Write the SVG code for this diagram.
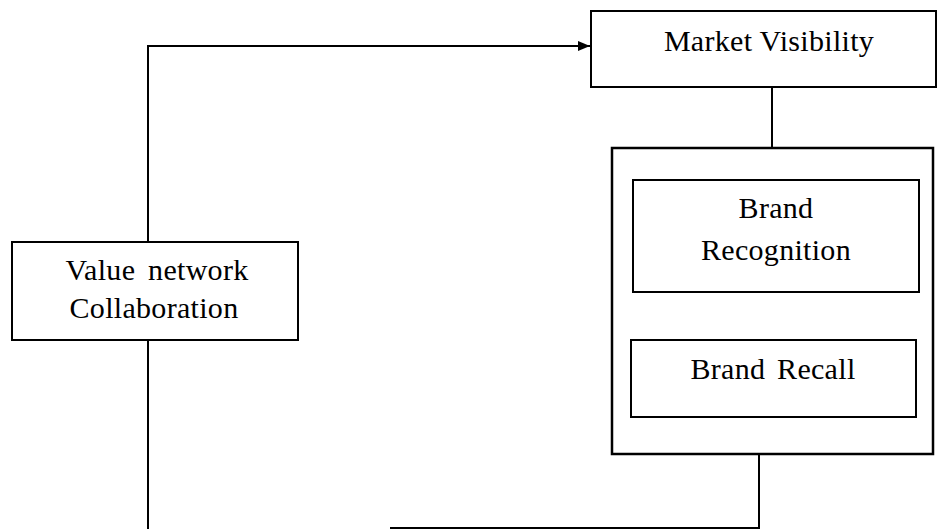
<svg xmlns="http://www.w3.org/2000/svg" width="938" height="529" viewBox="0 0 938 529">
<style>
.box{fill:#fff;stroke:#000;stroke-width:2}
.outer{fill:#fff;stroke:#000;stroke-width:2.5}
.t{font-family:"Liberation Serif","Times New Roman",serif;font-size:30px;letter-spacing:0.3px;fill:#000;text-anchor:middle}
.c{fill:none;stroke:#000;stroke-width:2}
</style>
<defs>
<marker id="arr" markerWidth="12" markerHeight="10" refX="12" refY="5" orient="auto" markerUnits="userSpaceOnUse">
<path d="M0,0 L12,5 L0,10 Z" fill="#000"/>
</marker>
</defs>
<g id="connectors">
<path class="c" d="M148,242 L148,46 L590,46" marker-end="url(#arr)"/>
<path class="c" d="M772,87 L772,148"/>
<path class="c" d="M148,340 L148,529"/>
<path class="c" d="M759,454 L759,528 L390,528"/>
</g>
<g id="market-visibility">
<rect class="box" x="591" y="11" width="345" height="76"/>
<text class="t" x="769" y="51">Market Visibility</text>
</g>
<g id="value-network">
<rect class="box" x="12" y="242" width="286" height="98"/>
<text class="t" x="157" y="280" word-spacing="5">Value network</text>
<text class="t" x="154" y="318">Collaboration</text>
</g>
<g id="brand-group">
<rect class="outer" x="612" y="148" width="321" height="306"/>
</g>
<g id="brand-recognition">
<rect class="box" x="633" y="180" width="286" height="112"/>
<text class="t" x="776" y="218">Brand</text>
<text class="t" x="776" y="260">Recognition</text>
</g>
<g id="brand-recall">
<rect class="box" x="631" y="340" width="285" height="77"/>
<text class="t" x="773" y="379" word-spacing="4">Brand Recall</text>
</g>
</svg>
